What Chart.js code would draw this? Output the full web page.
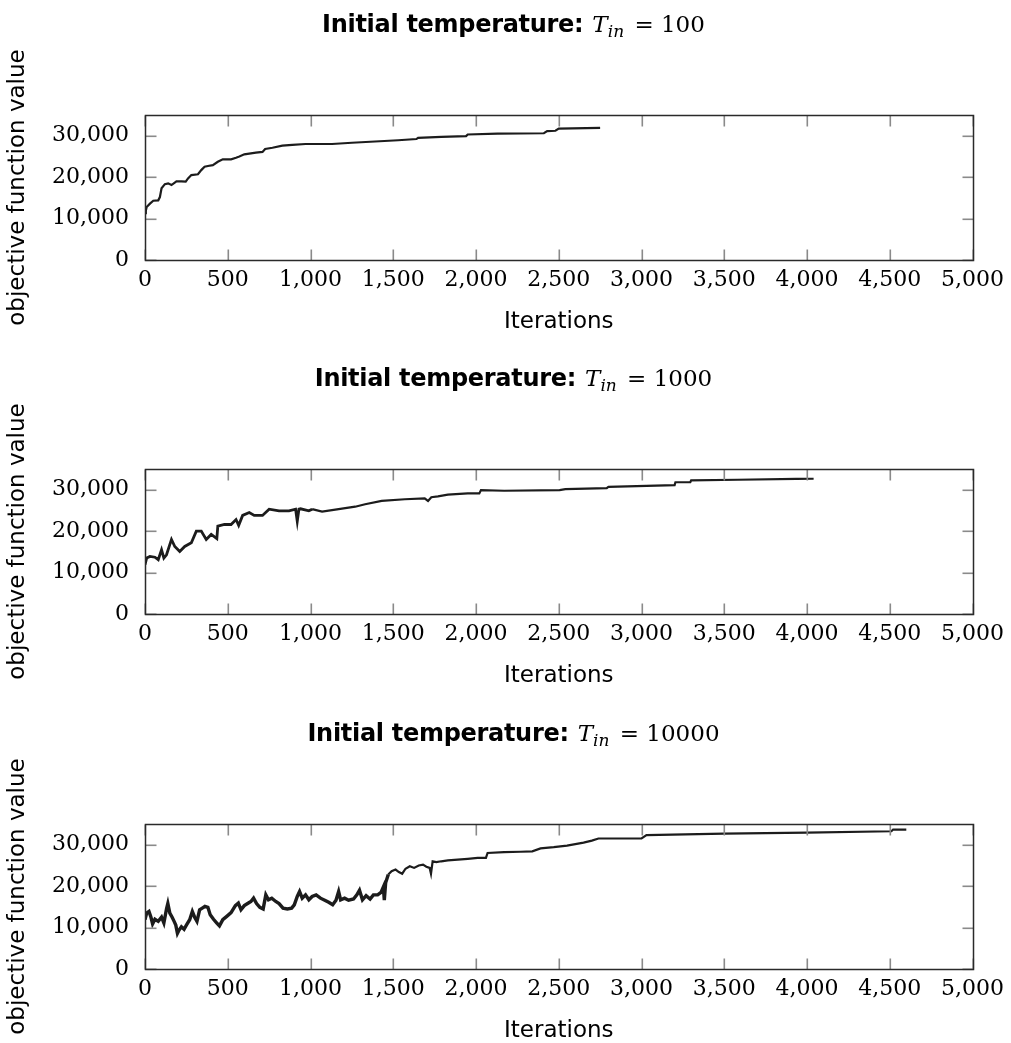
<!DOCTYPE html>
<html>
<head>
<meta charset="utf-8">
<script src="https://cdn.jsdelivr.net/npm/chart.js@4.4.1/dist/chart.umd.min.js"></script>
<style>
  html, body { margin: 0; padding: 0; background: #fff; overflow: hidden; }
  #wrap { position: relative; width: 1011px; height: 1043px; }
  .panel { position: absolute; left: 0; width: 1011px; height: 336px; }
  .panel canvas { position: absolute; left: 0; top: 0; }
  .ttl { position: absolute; left: 8px; top: 9px; width: 1011px; text-align: center;
         line-height: 30px; white-space: nowrap; z-index: 2; }
  .ttl b { font-family: "DejaVu Sans"; font-weight: bold; font-size: 24px; letter-spacing: -0.3px; }
  .ttl .m { font-family: "DejaVu Serif"; font-size: 23px; margin-left: 9px; }
  .ttl .m i { font-style: italic; }
  .ttl .m sub { font-style: italic; font-size: 17px; line-height: 0; vertical-align: -5px; margin-right: 3px; }
</style>
</head>
<body>
<div id="wrap">
  <div class="panel" style="top:0px">
    <div class="ttl"><b>Initial temperature:</b><span class="m"><i>T</i><sub>in</sub> = 100</span></div>
    <canvas id="c1" width="1011" height="336"></canvas>
  </div>
  <div class="panel" style="top:354px">
    <div class="ttl"><b>Initial temperature:</b><span class="m"><i>T</i><sub>in</sub> = 1000</span></div>
    <canvas id="c2" width="1011" height="336"></canvas>
  </div>
  <div class="panel" style="top:709px">
    <div class="ttl"><b>Initial temperature:</b><span class="m"><i>T</i><sub>in</sub> = 10000</span></div>
    <canvas id="c3" width="1011" height="336"></canvas>
  </div>
</div>
<script>
// x ticks and y ticks shared by all three panels
const xTicks = [0,500,1000,1500,2000,2500,3000,3500,4000,4500,5000];
const yTicks = [0,10000,20000,30000];

// T_in = 100
const iters100 = [0,5,10,30,50,80,90,100,120,140,160,190,220,246,260,280,320,340,360,380,410,440,470,520,550,570,600,670,710,726,770,830,890,970,1130,1250,1390,1530,1640,1650,1790,1940,1950,2130,2410,2430,2480,2500,2750];
const vals100  = [11300,11900,12800,13600,14300,14400,15200,17300,18300,18500,18100,19000,19000,18900,19700,20500,20700,21700,22500,22700,22900,23700,24300,24300,24700,25000,25500,25900,26100,26800,27100,27600,27800,28000,28000,28300,28600,28900,29200,29500,29700,29900,30300,30500,30600,31100,31200,31700,31900];

// T_in = 1000
const iters1000 = [0,10,30,60,80,100,114,130,160,180,210,240,280,310,340,370,400,434,440,480,520,550,566,590,630,660,710,750,810,870,910,920,930,940,990,1010,1070,1170,1270,1330,1430,1570,1690,1710,1730,1770,1830,1950,2020,2030,2170,2505,2540,2790,2800,3200,3205,3295,3300,3580,3935,4040];
const vals1000  = [11900,13500,13900,13700,13100,15500,13500,14300,18000,16300,15100,16300,17200,20000,20000,18000,19200,18200,21200,21600,21600,22800,21400,23800,24500,23800,23800,25300,24900,24900,25300,22400,25300,25400,24900,25300,24700,25300,25900,26500,27300,27700,27900,27300,28200,28400,28800,29100,29100,29900,29750,29900,30150,30400,30700,31100,31800,31800,32250,32400,32600,32650];

// T_in = 10000
const iters10000 = [0,10,24,36,46,60,80,100,114,130,138,150,164,176,186,196,206,220,236,250,270,286,300,314,330,346,362,380,394,414,434,450,470,494,520,546,564,580,600,620,640,656,674,694,714,730,746,766,790,810,834,860,886,902,920,934,950,970,990,1010,1034,1060,1086,1110,1134,1154,1170,1182,1206,1230,1260,1280,1296,1314,1336,1360,1380,1406,1426,1440,1446,1454,1470,1490,1514,1534,1554,1574,1600,1626,1654,1680,1700,1720,1728,1738,1760,1790,1830,1890,1950,2010,2060,2070,2170,2270,2340,2390,2470,2550,2650,2700,2740,3000,3030,3500,4000,4510,4520,4600];
const vals10000  = [11900,13500,13900,12500,10900,12000,11500,12500,11100,14500,15800,13500,12500,11500,10600,8600,9400,10200,9600,10600,11900,13900,12500,11500,14300,14700,15100,14900,13100,12000,11100,10400,11900,12700,13600,15300,15900,14300,15300,15800,16300,17100,15800,14900,14500,17900,16700,17100,16300,15800,14700,14500,14700,15500,17500,18700,17100,17900,16700,17500,17900,17100,16600,16100,15500,16600,18700,16700,17100,16600,16900,17900,19000,16700,17700,16900,17900,17900,18500,19800,16600,20800,22800,23600,24000,23400,23000,24200,24800,24400,25000,25200,24700,24400,23000,26000,25800,26000,26200,26400,26600,26800,26800,28000,28200,28300,28400,29100,29400,29800,30500,31000,31500,31500,32300,32700,32900,33250,33650,33650];

const serif = 'DejaVu Serif';
const sans = 'DejaVu Sans';
const fmt = v => Number(v).toLocaleString('en-US');

// pgfplots-like box: gray inward ticks on all four sides, dark frame
const boxPlugin = {
  id: 'box',
  afterDraw(chart){
    const ctx = chart.ctx;
    const a = chart.chartArea;
    const sx = chart.scales.x, sy = chart.scales.y;
    const l = Math.round(a.left) + 0.5, t = Math.round(a.top) + 0.5;
    const r = Math.round(a.right) + 0.5, b = Math.round(a.bottom) + 0.5;
    ctx.save();
    ctx.fillStyle = '#8a8a8a';
    for (const v of xTicks) {
      const px = Math.round(sx.getPixelForValue(v));
      ctx.fillRect(px - 0.5, t, 1.6, 11);
      ctx.fillRect(px - 0.5, b - 11, 1.6, 11);
    }
    for (const v of yTicks) {
      const py = Math.round(sy.getPixelForValue(v));
      ctx.fillRect(l, py - 0.5, 11, 1.6);
      ctx.fillRect(r - 11, py - 0.5, 11, 1.6);
    }
    ctx.strokeStyle = '#2a2a2a';
    ctx.lineWidth = 1.5;
    ctx.strokeRect(l, t, r - l, b - t);
    ctx.restore();
  }
};

function makeChart(id, iters, vals, noisyUntil, noisyWidth){
  const pts = iters.map((it, i) => ({x: it, y: vals[i]}));
  return new Chart(document.getElementById(id), {
    type: 'line',
    data: { datasets: [{
      data: pts,
      borderColor: '#1c1c1c',
      borderWidth: 2.2,
      pointRadius: 0,
      tension: 0,
      segment: { borderWidth: c => c.p0.parsed.x < noisyUntil ? noisyWidth : 2.2 }
    }]},
    options: {
      responsive: false,
      animation: false,
      layout: { padding: { top: 115, right: 33, left: 0, bottom: 0 } },
      plugins: { legend: { display: false }, tooltip: { enabled: false } },
      scales: {
        x: {
          type: 'linear', min: 0, max: 5000,
          grid: { display: false, drawTicks: false },
          border: { display: false },
          afterBuildTicks: s => { s.ticks = xTicks.map(v => ({value: v})); },
          afterFit: s => { s.height = 76; },
          ticks: { autoSkip: false, maxRotation: 0, padding: 7, color: '#000',
                   font: { family: serif, size: 22 }, callback: fmt },
          title: { display: true, text: 'Iterations', color: '#000',
                   font: { family: sans, size: 23 }, padding: { top: 0, bottom: 0 } }
        },
        y: {
          type: 'linear', min: 0, max: 35000,
          grid: { display: false, drawTicks: false },
          border: { display: false },
          afterBuildTicks: s => { s.ticks = yTicks.map(v => ({value: v})); },
          afterFit: s => { s.width = 145; },
          ticks: { padding: 16, color: '#000', font: { family: serif, size: 22 }, callback: fmt },
          title: { display: true, text: 'objective function value', color: '#000',
                   font: { family: sans, size: 23 }, padding: { top: 4, bottom: 0 } }
        }
      }
    },
    plugins: [boxPlugin]
  });
}

makeChart('c1', iters100, vals100, 0, 2.2);
makeChart('c2', iters1000, vals1000, 1000, 2.8);
makeChart('c3', iters10000, vals10000, 1470, 3.4);
</script>
</body>
</html>
